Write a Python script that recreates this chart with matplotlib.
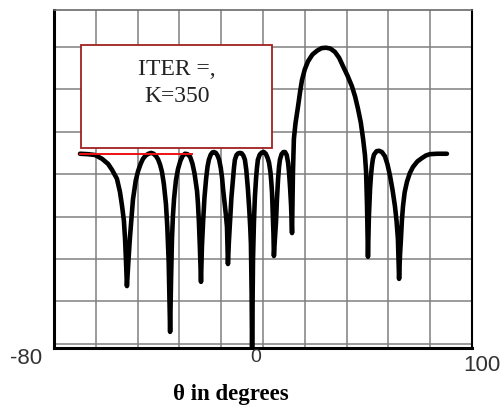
import matplotlib
matplotlib.use("Agg")
import matplotlib.pyplot as plt
from matplotlib.patches import Rectangle

# Radiation pattern (theta in degrees, level in dB)
theta = [
    -68.8, -65.4, -62.3, -59.3, -56.7, -55.0, -52.9, -51.6, -50.7, -49.9, -49.4, -49.0, -48.6,
    -47.9, -47.3, -46.6, -46.0, -44.8, -43.8, -42.7, -41.7, -40.5, -39.3, -38.2, -37.1, -36.0,
    -35.2, -34.3, -33.5, -32.7, -31.8, -31.2, -30.6, -30.0,
    -29.6, -29.2, -28.8, -28.3, -27.5, -26.6, -25.6, -24.6, -23.6, -22.5, -21.4, -20.4, -19.5,
    -18.9, -18.4, -18.0, -17.6, -17.2, -16.7,
    -16.3, -15.8, -15.2, -14.5, -13.9, -13.3, -12.5, -11.8, -11.1, -10.3, -9.6, -8.9, -8.2,
    -7.6, -7.2, -6.6, -6.0, -5.5, -5.1,
    -4.7, -4.2, -3.6, -2.9, -2.5, -2.1, -1.4, -0.7, 0.1, 0.8, 1.5, 2.2, 2.8, 3.5, 4.1, 4.5,
    4.8, 5.1, 5.3,
    5.7, 6.1, 6.5, 7.0, 7.4, 7.8, 8.6, 9.5, 10.4, 11.2, 12.0, 12.6, 13.2, 13.6, 13.9, 14.2,
    14.5, 14.7,
    15.1, 15.6, 16.0, 16.5, 16.9, 17.3, 18.0, 18.8, 19.5, 20.2, 20.8, 21.2, 21.7, 22.1, 22.5,
    22.7, 22.9, 23.3, 24.0, 25.1, 26.0, 26.8, 28.0, 29.4, 31.3, 33.3, 35.2, 37.1, 39.0, 41.0,
    42.8, 44.4, 46.4, 48.3, 49.7, 50.9, 52.1, 53.1, 53.9, 54.4, 54.8, 55.2,
    55.6, 56.1, 56.5, 56.9, 57.3, 57.8, 58.9, 60.0, 61.2, 62.5, 63.6, 64.7, 65.8, 66.8, 67.5,
    68.1, 68.6,
    69.0, 69.4, 69.8, 70.3, 71.0, 72.0, 73.2, 74.6, 76.5, 78.5, 80.2, 81.9, 85.0, 89.2,
]
gain_db = [
    -25.2, -25.3, -25.5, -26.4, -27.6, -29.0, -31.1, -34.2, -37.5, -41.0, -45.3, -50.5, -56.4,
    -50.0, -45.0, -40.0, -36.0, -31.5, -29.3, -27.6, -26.4, -25.6, -25.2, -25.0, -25.2, -25.8,
    -26.5, -27.8, -29.5, -32.3, -37.0, -42.5, -51.0, -67.2,
    -55.0, -45.3, -40.0, -35.8, -31.5, -28.8, -26.9, -25.7, -25.2, -25.3, -25.9, -27.5, -29.8,
    -32.0, -34.0, -37.0, -41.3, -47.0, -55.4,
    -47.0, -41.3, -35.5, -31.1, -28.3, -26.6, -25.4, -24.9, -24.8, -25.0, -25.6, -26.6, -28.5,
    -31.0, -33.5, -36.5, -39.5, -42.5, -51.2,
    -46.0, -41.3, -35.5, -31.1, -28.5, -26.6, -25.5, -25.1, -25.0, -25.1, -25.6, -26.6, -29.0,
    -33.5, -38.5, -42.5, -46.5, -58.0, -72.0,
    -50.0, -41.3, -35.5, -31.1, -28.5, -26.6, -25.4, -24.9, -24.8, -25.2, -26.2, -27.3, -29.5,
    -32.0, -34.5, -39.0, -44.0, -49.3,
    -45.5, -41.3, -36.0, -31.1, -28.3, -26.6, -25.3, -24.8, -24.8, -25.5, -27.3, -29.5, -33.5,
    -37.5, -43.9,
    -36.0, -29.5, -21.7, -18.0, -14.0, -10.5, -7.8, -5.3, -3.4, -1.8, -0.9, -0.3, -0.2, -0.4,
    -1.2, -2.6, -4.5, -6.8, -9.3, -11.8, -14.6, -17.8, -21.7, -25.5, -29.5, -37.5, -49.5,
    -40.0, -33.5, -30.3, -28.1, -26.5, -25.4, -24.6, -24.5, -24.8, -25.8, -27.7, -30.4, -33.8,
    -37.5, -41.0, -45.3, -54.7,
    -49.0, -45.3, -41.0, -37.5, -34.3, -31.8, -29.8, -28.3, -27.0, -26.2, -25.6, -25.3, -25.2,
    -25.2,
]

x_label_texts = ["-80", "0", "100"]
box_lines = ["ITER =,", "K=350"]
red_line_x = [-68.8, -20.6]
red_line_y = [-25.2, -25.2]

fig = plt.figure(figsize=(5.0, 4.06), dpi=100)
ax = fig.add_axes([0.108, 0.1404, 0.836, 0.8326])
ax.set_xlim(-80, 100)
ax.set_ylim(-71.0, 8.7)

xt = [-80 + 18 * i for i in range(11)]
yt = [-70 + 10 * i for i in range(8)]
for x in xt[1:-1]:
    ax.axvline(x, color="#808080", lw=1.1, zorder=1)
for y in yt:
    ax.axhline(y, color="#808080", lw=1.1, zorder=1)
ax.set_xticks([])
ax.set_yticks([])

for s in ["left", "bottom"]:
    ax.spines[s].set_linewidth(2.2)
    ax.spines[s].set_color("black")
ax.spines["right"].set_linewidth(1.5)
ax.spines["right"].set_color("black")
ax.spines["top"].set_linewidth(1.2)
ax.spines["top"].set_color("#6a6a6a")

ax.plot(theta, gain_db, color="black", lw=3.3, solid_joinstyle="round",
        solid_capstyle="round", zorder=3, clip_on=True)

# text box
bx0, bx1 = -68.4, 14.0
by0, by1 = -23.8, 0.5
ax.add_patch(Rectangle((bx0, by0), bx1 - bx0, by1 - by0, facecolor="white",
                       edgecolor="#a02020", lw=1.3, zorder=4))
ax.text((bx0 + bx1) / 2, -5.0, box_lines[0], ha="center", va="center",
        family="Liberation Serif", fontsize=17, color="#222222", zorder=5)
ax.text((bx0 + bx1) / 2, -11.5, box_lines[1], ha="center", va="center",
        family="Liberation Serif", fontsize=17, color="#222222", zorder=5)
ax.plot(red_line_x, red_line_y, color="#ee1111", lw=1.4, zorder=6)

# axis end labels
fig.text(26 / 500, 1 - 359 / 406, x_label_texts[0], ha="center", va="center",
         family="Liberation Sans", fontsize=16, color="#333333")
fig.text(256 / 500, 1 - 358 / 406, x_label_texts[1], ha="center", va="center",
         family="Liberation Sans", fontsize=14, color="#333333")
fig.text(482 / 500, 1 - 366 / 406, x_label_texts[2], ha="center", va="center",
         family="Liberation Sans", fontsize=16, color="#333333")
fig.text(231 / 500, 1 - 395 / 406, "\u03b8 in degrees", ha="center", va="center",
         family="Liberation Serif", fontweight="bold", fontsize=16.5, color="black")

fig.savefig("out.png", dpi=100)
